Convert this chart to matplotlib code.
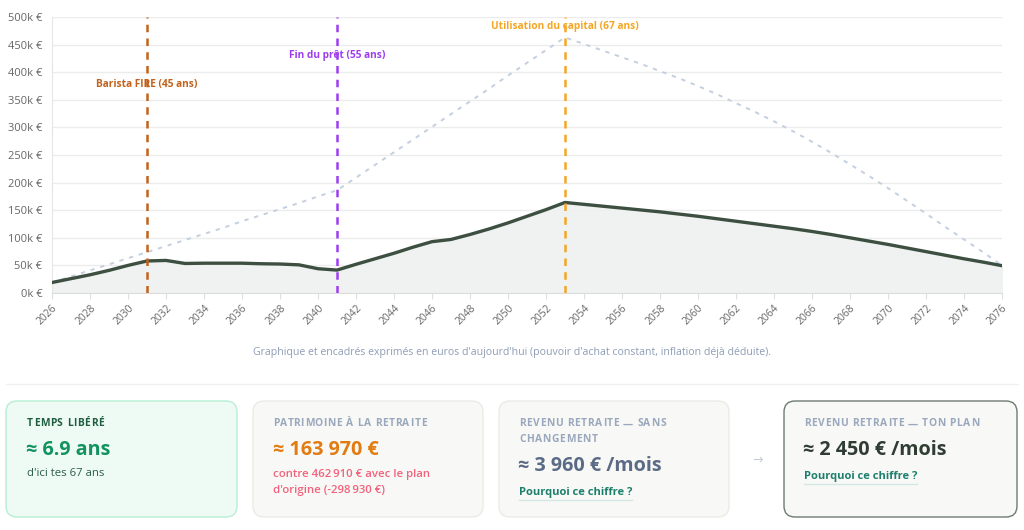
import matplotlib
matplotlib.use("Agg")
import matplotlib.pyplot as plt
from matplotlib.patches import FancyBboxPatch
from matplotlib.lines import Line2D

plt.rcParams['font.family'] = ['Open Sans', 'Noto Sans', 'DejaVu Sans']

years = list(range(2026, 2077))
plan_actuel = [19, 26, 33, 41, 50, 58, 59, 53.5, 54, 54, 54, 53, 52.5, 51, 44, 41.5,
               52, 62, 72, 83, 93, 97, 106, 116, 127, 139, 151, 164,
               160.6, 157.2, 153.8, 150.4, 147, 143, 139, 134.5, 130, 125.5, 121, 116.5,
               111.5, 106, 100, 94, 88, 81.5, 75, 68.5, 62, 56, 49.5]
plan_origine = [19, 30, 41, 52, 63, 74, 85, 96, 107, 118, 130, 141, 152, 163, 175, 186,
                209, 232, 255, 278, 301, 324, 347, 370, 394, 417, 440, 463,
                451, 439, 427, 415, 402, 389, 375, 360, 344, 328, 311, 293, 274, 254,
                233, 212, 190, 167, 144, 120, 97, 74, 50]
plan_actuel = [v * 1000 for v in plan_actuel]
plan_origine = [v * 1000 for v in plan_origine]

events_years = [2031, 2041, 2053]
events_labels = ["Barista FIRE (45 ans)", "Fin du prêt (55 ans)", "Utilisation du capital (67 ans)"]
events_colors = ["#c2621c", "#9d3df0", "#f5a623"]
events_label_y = [377000, 430000, 482000]

y_ticks = [0, 50000, 100000, 150000, 200000, 250000, 300000, 350000, 400000, 450000, 500000]
y_tick_labels = ["0k €", "50k €", "100k €", "150k €", "200k €", "250k €", "300k €",
                 "350k €", "400k €", "450k €", "500k €"]
x_ticks = list(range(2026, 2077, 2))

W, H = 1024, 530
fig = plt.figure(figsize=(W / 100, H / 100), dpi=100)
fig.patch.set_facecolor("white")

ax = fig.add_axes([52 / W, (H - 293) / H, (1002 - 52) / W, (293 - 17) / H])
ax.set_xlim(2026, 2076)
ax.set_ylim(0, 500000)
ax.set_yticks(y_ticks)
ax.set_yticklabels(y_tick_labels)
ax.set_xticks(x_ticks)
ax.set_xticklabels([str(x) for x in x_ticks], rotation=45, ha="right", rotation_mode="anchor")
ax.tick_params(axis="y", length=0, labelsize=8, colors="#666666", pad=7)
ax.tick_params(axis="x", length=4, color="#e0e0e0", labelsize=7.4, colors="#666666", pad=3)
ax.grid(axis="y", color="#ececec", linewidth=1)
ax.set_axisbelow(True)
for s in ["top", "right"]:
    ax.spines[s].set_visible(False)
ax.spines["left"].set_color("#e6e6e6")
ax.spines["bottom"].set_color("#dcdcdc")

ax.fill_between(years, plan_actuel, 0, color="#eef1ef", alpha=0.9, zorder=1)
ax.plot(years, plan_origine, color="#c4cfdf", linewidth=1.4, linestyle=(0, (2.2, 3)), zorder=2)
ax.plot(years, plan_actuel, color="#3d4f40", linewidth=2.4, solid_joinstyle="round", zorder=3)

for yr, lab, col, ly in zip(events_years, events_labels, events_colors, events_label_y):
    ax.axvline(yr, ymin=0, ymax=1, color=col, linewidth=1.8, linestyle=(0, (3, 2.5)), zorder=4)
    ax.text(yr, ly, lab, color=col, fontsize=7.3, fontweight="bold", ha="center", va="center", zorder=5)

# overlay in pixel coords
ov = fig.add_axes([0, 0, 1, 1])
ov.set_xlim(0, W)
ov.set_ylim(H, 0)
ov.axis("off")
ov.patch.set_alpha(0)

fig.canvas.draw()
renderer = fig.canvas.get_renderer()


def _w(s, **kw):
    t = ov.text(0, 0, s, **kw)
    w = t.get_window_extent(renderer=renderer).width
    t.remove()
    return w


def spaced_text(x, y, s, spacing, **kw):
    # draw text char by char with extra letter spacing (pixels)
    ref = _w("X", **kw)
    for i, ch in enumerate(s):
        if ch == " ":
            continue
        off = (_w(s[:i] + "X", **kw) - ref) if i > 0 else 0
        ov.text(x + off + i * spacing, y, ch, ha="left", va="center", **kw)


ov.text(512, 353, "Graphique et encadrés exprimés en euros d'aujourd'hui (pouvoir d'achat constant, inflation déjà déduite).",
        color="#8e9db5", fontsize=7.55, ha="center", va="center")
ov.add_line(Line2D([6, 1018], [384, 384], color="#f0f0f0", linewidth=1))

cards = [
    (6, 237, "#edfbf4", "#b7eed4", 1.0),
    (253, 483, "#f8f8f6", "#ebebe6", 1.0),
    (499, 729, "#f8f8f6", "#ebebe6", 1.0),
    (784, 1017, "#f8f8f6", "#6e7b72", 1.0),
]
for x0, x1, fc, ec, lw in cards:
    ov.add_patch(FancyBboxPatch((x0, 401), x1 - x0, 116,
                                boxstyle="round,pad=0,rounding_size=11",
                                facecolor=fc, edgecolor=ec, linewidth=lw))

tk = dict(fontsize=7.4, fontweight="bold")
sp = 0.65
val_kw = dict(fontsize=14.2, fontweight="bold", ha="left", va="center")
# card 1
spaced_text(27, 424, "TEMPS LIBÉRÉ", sp, color="#1f5e40", **tk)
ov.text(26, 450, "≈ 6.9 ans", color="#12925f", **val_kw)
ov.text(27, 474, "d'ici tes 67 ans", color="#2d5c47", fontsize=8.2, ha="left", va="center")
# card 2
spaced_text(273, 424, "PATRIMOINE À LA RETRAITE", sp, color="#9aa8bd", **tk)
ov.text(273, 450, "≈ 163 970 €", color="#e27b10", **val_kw)
ov.text(273, 474, "contre 462\u202f910 € avec le plan", color="#f2627c", fontsize=8.2,
        fontweight="semibold", ha="left", va="center")
ov.text(273, 490, "d'origine (-298\u202f930 €)", color="#f2627c", fontsize=8.2,
        fontweight="semibold", ha="left", va="center")
# card 3
spaced_text(519, 424, "REVENU RETRAITE — SANS", sp, color="#9aa8bd", **tk)
spaced_text(519, 439, "CHANGEMENT", sp, color="#9aa8bd", **tk)
ov.text(518, 466, "≈ 3 960 € /mois", color="#5b6b86", **val_kw)
t3 = ov.text(519, 492, "Pourquoi ce chiffre ?", color="#1b7f6c", fontsize=8.0, fontweight="bold", ha="left", va="center")
# arrow
ov.text(758, 460, "→", color="#c8ccd4", fontsize=9, ha="center", va="center")
# card 4
spaced_text(804, 424, "REVENU RETRAITE — TON PLAN", sp, color="#9aa8bd", **tk)
ov.text(803, 450, "≈ 2 450 € /mois", color="#2f3d33", **val_kw)
t4 = ov.text(804, 476, "Pourquoi ce chiffre ?", color="#1b7f6c", fontsize=8.0, fontweight="bold", ha="left", va="center")

for t, yy in [(t3, 500), (t4, 484)]:
    bb = t.get_window_extent(renderer=renderer)
    ov.add_line(Line2D([bb.x0, bb.x1], [yy, yy], color="#cfe8e2", linewidth=0.9))

fig.savefig("out.png", dpi=100, facecolor="white")
